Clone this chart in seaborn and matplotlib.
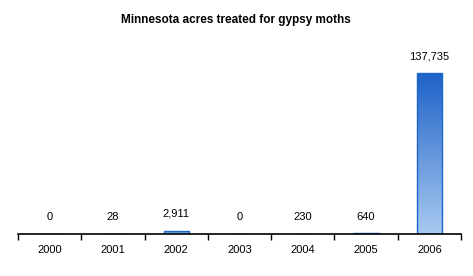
import numpy as np
import pandas as pd
import matplotlib
matplotlib.use("Agg")
import matplotlib.pyplot as plt
import seaborn as sns
from matplotlib.colors import LinearSegmentedColormap

years = ["2000", "2001", "2002", "2003", "2004", "2005", "2006"]
acres = [0, 28, 2911, 0, 230, 640, 137735]
labels = ["0", "28", "2,911", "0", "230", "640", "137,735"]

sns.set_theme(style="white")
plt.rcParams['font.family'] = ['Liberation Sans', 'DejaVu Sans']

df = pd.DataFrame({"year": years, "acres": acres})

fig = plt.figure(figsize=(4.73, 2.76), dpi=100)
ax = fig.add_axes([18/473, 42/276, (461-18)/473, (234-40)/276])
sns.barplot(data=df, x="year", y="acres", ax=ax, width=0.4,
            color="#6a9be0", edgecolor="#1a66cc", linewidth=1.0, saturation=1)
ax.set_ylim(0, 166000)
ax.set_xlim(-0.5, len(years) - 0.5)

cmap = LinearSegmentedColormap.from_list("g", ["#a8caf0", "#1e62c8"])
grad = np.linspace(0, 1, 256).reshape(-1, 1)
for p in ax.patches:
    x0, y0 = p.get_x(), p.get_y()
    w, h = p.get_width(), p.get_height()
    if h <= 0:
        continue
    p.set_facecolor("none")
    im = ax.imshow(grad, cmap=cmap, aspect="auto", origin="lower",
                   extent=[x0, x0 + w, y0, y0 + h], zorder=p.get_zorder() - 0.1)
    im.set_clip_path(p)

for i, (v, lab) in enumerate(zip(acres, labels)):
    ax.annotate(lab, (i, v), xytext=(0, 12), textcoords="offset points",
                ha="center", va="center", fontsize=8, color="black")

for s in ["top", "right", "left"]:
    ax.spines[s].set_visible(False)
ax.spines["bottom"].set_color("black")
ax.spines["bottom"].set_linewidth(1.2)
ax.set_yticks([])
ax.set_xticks(np.arange(-0.5, len(years), 1), minor=True)
ax.tick_params(axis="x", which="minor", length=4, width=1, color="black", bottom=True)
ax.tick_params(axis="x", which="major", length=0, labelsize=8, pad=8, labelcolor="black")
ax.set_xlabel("")
ax.set_ylabel("")

fig.text(236/473, 1 - 20/276, "Minnesota acres treated for gypsy moths",
         ha="center", va="center", fontsize=8.5, fontweight="bold", color="black")

fig.savefig("out.png", dpi=100, facecolor="white")
